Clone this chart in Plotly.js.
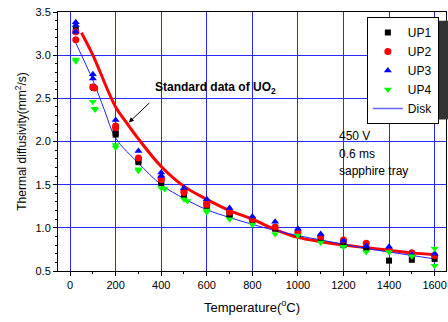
<!DOCTYPE html>
<html>
<head>
<meta charset="utf-8">
<script src="https://cdn.plot.ly/plotly-3.0.1.min.js"></script>
<style>html,body{margin:0;padding:0;background:#fff;}#chart{width:448px;height:322px;}</style>
</head>
<body>
<div id="chart"></div>
<script>
// UP1 (black squares)
var up1T = [25, 100, 105, 200, 200, 300, 300, 400, 400, 500, 500, 600, 600, 700, 700, 800, 900, 1000, 1100, 1200, 1300, 1400, 1500, 1600];
var up1V = [3.30, 2.63, 2.62, 2.10, 2.08, 1.78, 1.76, 1.54, 1.52, 1.40, 1.38, 1.27, 1.25, 1.16, 1.15, 1.08, 0.99, 0.93, 0.87, 0.80, 0.76, 0.62, 0.63, 0.64];
// UP2 (red circles)
var up2T = [25, 25, 100, 108, 200, 200, 300, 400, 400, 500, 500, 600, 600, 700, 800, 900, 1000, 1100, 1200, 1300, 1400, 1500, 1600];
var up2V = [3.27, 3.18, 2.63, 2.62, 2.18, 2.16, 1.81, 1.58, 1.56, 1.43, 1.41, 1.29, 1.27, 1.18, 1.10, 1.01, 0.95, 0.90, 0.86, 0.82, 0.75, 0.71, 0.68];
// UP3 (blue up triangles)
var up3T = [25, 25, 25, 100, 100, 200, 300, 400, 400, 500, 600, 700, 800, 900, 1000, 1100, 1200, 1300, 1400, 1500, 1600];
var up3V = [3.38, 3.35, 3.27, 2.78, 2.73, 2.25, 1.89, 1.64, 1.60, 1.46, 1.33, 1.23, 1.13, 1.07, 0.99, 0.93, 0.85, 0.79, 0.78, 0.69, 0.70];
// UP4 (green down triangles)
var up4T = [25, 25, 100, 107, 110, 200, 200, 300, 300, 400, 415, 500, 515, 600, 600, 700, 800, 900, 1000, 1100, 1200, 1300, 1400, 1500, 1600, 1600];
var up4V = [2.95, 2.93, 2.46, 2.38, 2.37, 1.96, 1.93, 1.68, 1.66, 1.46, 1.45, 1.33, 1.31, 1.20, 1.18, 1.10, 1.04, 0.93, 0.91, 0.83, 0.78, 0.72, 0.72, 0.67, 0.76, 0.56];
// Disk (thin blue line)
var diskT = [25, 100, 150, 200, 300, 400, 500, 600, 700, 800, 900, 1000, 1100, 1200, 1300, 1400, 1500, 1600];
var diskV = [3.14, 2.71, 2.37, 2.04, 1.75, 1.50, 1.34, 1.21, 1.12, 1.04, 0.97, 0.91, 0.86, 0.81, 0.76, 0.72, 0.68, 0.64];
// Standard data of UO2 (thick red line)
var stdT = [50, 100, 200, 250, 300, 400, 500, 600, 700, 800, 900, 1000, 1100, 1200, 1300, 1400, 1500, 1600];
var stdV = [3.26, 3.00, 2.40, 2.21, 2.03, 1.71, 1.48, 1.33, 1.20, 1.10, 0.98, 0.89, 0.84, 0.80, 0.77, 0.74, 0.71, 0.69];

var xTicks = [0, 200, 400, 600, 800, 1000, 1200, 1400, 1600];
var yTicks = [0.5, 1.0, 1.5, 2.0, 2.5, 3.0, 3.5];
var notes = ['450 V', '0.6 ms', 'sapphire tray'];
var noteY = [2.06, 1.86, 1.66];

var F = '"Liberation Sans", Arial, sans-serif';
var traces = [
  {x: stdT, y: stdV, mode: 'lines', line: {color: '#ff0000', width: 3, shape: 'spline'}, showlegend: false, name: 'std'},
  {x: diskT, y: diskV, mode: 'lines', line: {color: '#2020ff', width: 1, shape: 'spline'}, name: 'Disk', showlegend: false},
  {x: up1T, y: up1V, mode: 'markers', marker: {symbol: 'square', color: '#000000', size: 6}, name: 'UP1'},
  {x: up2T, y: up2V, mode: 'markers', marker: {symbol: 'circle', color: '#ff0000', size: 7}, name: 'UP2'},
  {x: up3T, y: up3V, mode: 'markers', marker: {symbol: 'triangle-up', color: '#0000ff', size: 7}, name: 'UP3'},
  {x: up4T, y: up4V, mode: 'markers', marker: {symbol: 'triangle-down', color: '#00ff00', size: 7}, name: 'UP4'},
  {x: [null], y: [null], mode: 'lines', line: {color: '#6666ff', width: 1.5}, name: 'Disk'}
];

var ann = [
  {x: 364, y: 2.62, xref: 'x', yref: 'y', text: '<b>Standard data of UO<sub>2</sub></b>', showarrow: false, xanchor: 'left', yanchor: 'middle', font: {family: F, size: 12, color: '#000'}},
  {x: 258, y: 2.22, xref: 'x', yref: 'y', text: '', showarrow: true, arrowhead: 2, arrowsize: 1, arrowwidth: 1, arrowcolor: '#000', ax: 22, ay: -21}
];
for (var i = 0; i < notes.length; i++) {
  ann.push({x: 1171, y: noteY[i], xref: 'x', yref: 'y', text: notes[i], showarrow: false, xanchor: 'left', yanchor: 'middle', font: {family: F, size: 12, color: '#000'}});
}

var layout = {
  width: 448, height: 322,
  margin: {l: 58, r: 2, t: 12, b: 51},
  paper_bgcolor: '#fff', plot_bgcolor: '#fff',
  font: {family: F, size: 11, color: '#000'},
  xaxis: {
    range: [-53, 1650], tickvals: xTicks, ticktext: xTicks.map(String),
    showgrid: true, gridcolor: '#2a2aff', gridwidth: 1, zeroline: false,
    showline: true, linecolor: '#000', linewidth: 1, mirror: true,
    ticks: 'outside', ticklen: 4, tickcolor: '#000',
    minor: {dtick: 100, ticks: 'outside', ticklen: 2, tickcolor: '#000', showgrid: false},
    tickfont: {family: F, size: 11},
    title: {text: 'Temperature(<sup>o</sup>C)', font: {family: F, size: 13}, standoff: 12}
  },
  yaxis: {
    range: [0.5, 3.5], tickvals: yTicks, ticktext: yTicks.map(function(v){return v.toFixed(1);}),
    showgrid: true, gridcolor: '#2a2aff', gridwidth: 1, zeroline: false,
    showline: true, linecolor: '#000', linewidth: 1, mirror: true,
    ticks: 'outside', ticklen: 4, tickcolor: '#000',
    minor: {dtick: 0.1, ticks: 'outside', ticklen: 2, tickcolor: '#000', showgrid: false},
    tickfont: {family: F, size: 11},
    title: {text: 'Thermal diffusivity(mm<sup>2</sup>/s)', font: {family: F, size: 12}, standoff: 6}
  },
  legend: {x: 0.796, y: 0.981, xanchor: 'left', yanchor: 'top', bgcolor: '#fff', bordercolor: '#000', borderwidth: 1, font: {family: F, size: 12}, tracegroupgap: 0},
  shapes: [
    {type: 'rect', xref: 'paper', yref: 'paper', x0: 0.806, x1: 1.012, y0: 0.585, y1: 0.966, fillcolor: '#333', line: {width: 0}, layer: 'above'}
  ],
  annotations: ann
};

Plotly.newPlot('chart', traces, layout, {displayModeBar: false, staticPlot: true});
</script>
</body>
</html>
